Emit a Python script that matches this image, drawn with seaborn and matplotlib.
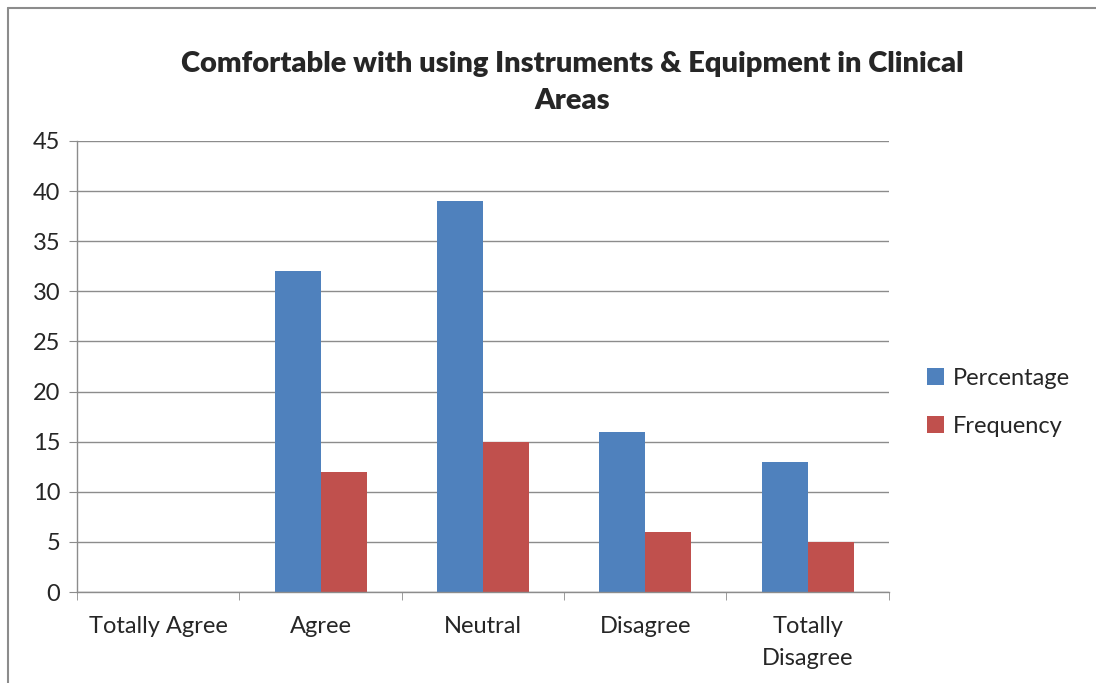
import pandas as pd
import seaborn as sns
import matplotlib.pyplot as plt
from matplotlib.lines import Line2D
from matplotlib.patches import Patch

categories = ["Totally Agree", "Agree", "Neutral", "Disagree", "Totally\nDisagree"]
percentage = [0, 32, 39, 16, 13]
frequency = [0, 12, 15, 6, 5]
series = ["Percentage", "Frequency"]
colors = ["#4F81BD", "#C0504D"]

df = pd.DataFrame({
    "category": categories * 2,
    "value": percentage + frequency,
    "series": [series[0]] * 5 + [series[1]] * 5,
})

sns.set_style("white")
plt.rcParams['font.family'] = ['Lato', 'DejaVu Sans']

fig = plt.figure(figsize=(10.96, 6.83), dpi=100)
ax = fig.add_axes([0.0703, 0.1332, 0.7406, 0.6604])

sns.barplot(data=df, x="category", y="value", hue="series", palette=colors,
            width=0.567, gap=0, saturation=1, edgecolor="none", ax=ax, legend=False)

ax.set_xlim(-0.5, 4.5)
ax.set_ylim(0, 45)
ax.set_yticks(range(0, 46, 5))
ax.yaxis.grid(True, color="#8c8c8c", linewidth=1)
ax.set_axisbelow(True)
for s in ["top", "right"]:
    ax.spines[s].set_visible(False)
for s in ["left", "bottom"]:
    ax.spines[s].set_color("#8c8c8c")
    ax.spines[s].set_linewidth(1)

ax.set_xlabel("")
ax.set_ylabel("")
ax.set_xticks(range(5))
ax.set_xticklabels(categories, fontsize=17, linespacing=1.65, va="top")
ax.set_xticks([i - 0.5 for i in range(6)], minor=True)
ax.tick_params(axis="x", which="major", length=0, pad=17)
ax.tick_params(axis="x", which="minor", length=6, color="#8c8c8c", direction="out")
ax.tick_params(axis="y", length=6, color="#8c8c8c", direction="out", labelsize=17, pad=6)
ax.tick_params(axis="y", which="both", left=True)
ax.tick_params(axis="x", which="minor", bottom=True)

fig.text(0.522, 0.879, "Comfortable with using Instruments & Equipment in Clinical\nAreas",
         ha="center", va="center", fontsize=21, fontweight="heavy", linespacing=1.5)

handles = [Patch(facecolor=c, edgecolor="none") for c in colors]
fig.legend(handles, series, loc="center left", bbox_to_anchor=(0.826, 0.411),
           frameon=False, fontsize=17, handlelength=0.75, handleheight=0.75,
           handletextpad=0.35, labelspacing=1.15)

# chart frame
fig.add_artist(Line2D([8 / 1096, 1.0], [1 - 8 / 683, 1 - 8 / 683],
                      transform=fig.transFigure, color="#8c8c8c", linewidth=1.5))
fig.add_artist(Line2D([8 / 1096, 8 / 1096], [0, 1 - 8 / 683],
                      transform=fig.transFigure, color="#8c8c8c", linewidth=1.5))

fig.savefig("out.png", dpi=100)
